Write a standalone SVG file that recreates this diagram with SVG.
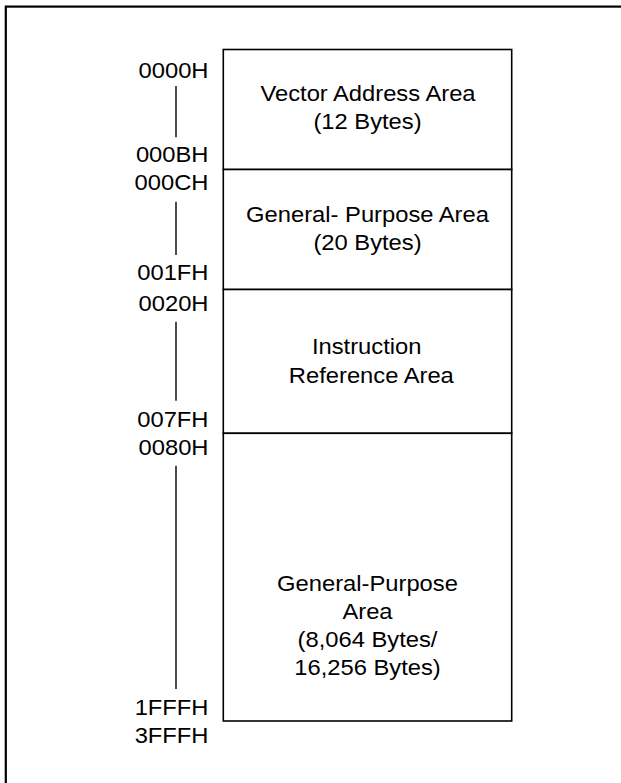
<svg xmlns="http://www.w3.org/2000/svg" width="621" height="783" viewBox="0 0 621 783">
<style>
  .frame { fill: none; stroke: #000; stroke-width: 2.2; }
  .area { fill: #fff; stroke: #000; stroke-width: 1.6; }
  .t { font-family: "Liberation Sans", Arial, sans-serif; font-size: 22px; fill: #000; }
  .c { text-anchor: middle; }
  .e { text-anchor: end; }
  .conn { stroke: #000; stroke-width: 1.4; fill: none; }
</style>
<rect width="621" height="783" fill="#fff"/>
<rect class="frame" x="5.8" y="6.6" width="640" height="800"/>

<g id="vector-address-area">
  <rect class="area" x="223.3" y="49.5" width="288.4" height="120"/>
  <text class="t c" transform="matrix(1.08 0 0 1 368 100.7)">Vector Address Area</text>
  <text class="t c" transform="matrix(1.08 0 0 1 367.5 128.7)">(12 Bytes)</text>
</g>
<g id="general-purpose-area-20">
  <rect class="area" x="223.3" y="169.5" width="288.4" height="120"/>
  <text class="t c" transform="matrix(1.08 0 0 1 367.5 221.7)">General- Purpose Area</text>
  <text class="t c" transform="matrix(1.08 0 0 1 367.5 250)">(20 Bytes)</text>
</g>
<g id="instruction-reference-area">
  <rect class="area" x="223.3" y="289.5" width="288.4" height="143.8"/>
  <text class="t c" transform="matrix(1.08 0 0 1 366.7 354.3)">Instruction</text>
  <text class="t c" transform="matrix(1.08 0 0 1 371.3 382.7)">Reference Area</text>
</g>
<g id="general-purpose-area-large">
  <rect class="area" x="223.3" y="433.3" width="288.4" height="287.7"/>
  <text class="t c" transform="matrix(1.08 0 0 1 367.5 591)">General-Purpose</text>
  <text class="t c" transform="matrix(1.08 0 0 1 367.5 619)">Area</text>
  <text class="t c" transform="matrix(1.08 0 0 1 367.5 647)">(8,064 Bytes/</text>
  <text class="t c" transform="matrix(1.08 0 0 1 367.5 675)">16,256 Bytes)</text>
</g>

<g id="address-labels">
  <text class="t e" transform="matrix(1.08 0 0 1 208.5 78.3)">0000H</text>
  <text class="t e" transform="matrix(1.08 0 0 1 208.5 161.7)">000BH</text>
  <text class="t e" transform="matrix(1.08 0 0 1 208.5 190)">000CH</text>
  <text class="t e" transform="matrix(1.08 0 0 1 208.5 280)">001FH</text>
  <text class="t e" transform="matrix(1.08 0 0 1 208.5 310.7)">0020H</text>
  <text class="t e" transform="matrix(1.08 0 0 1 208.5 426.7)">007FH</text>
  <text class="t e" transform="matrix(1.08 0 0 1 208.5 454.5)">0080H</text>
  <text class="t e" transform="matrix(1.08 0 0 1 208.5 715)">1FFFH</text>
  <text class="t e" transform="matrix(1.08 0 0 1 208.5 742.5)">3FFFH</text>
</g>

<g id="connectors">
  <line class="conn" x1="176" y1="86" x2="176" y2="137.3"/>
  <line class="conn" x1="176" y1="201.7" x2="176" y2="255"/>
  <line class="conn" x1="176" y1="321.7" x2="176" y2="400.7"/>
  <line class="conn" x1="176" y1="465.7" x2="176" y2="689"/>
</g>
</svg>
